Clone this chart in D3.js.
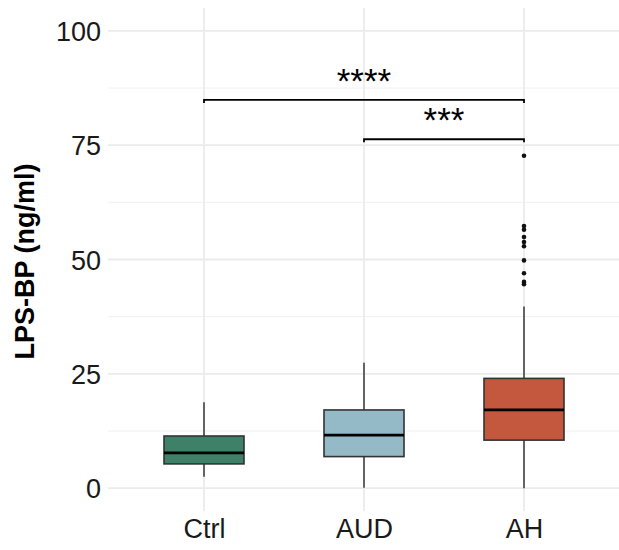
<!DOCTYPE html>
<html><head><meta charset="utf-8">
<script src="https://cdn.jsdelivr.net/npm/d3@7"></script>
<style>body{margin:0;background:#fff}svg{display:block}</style>
</head><body>
<svg id="c" width="619" height="550"></svg>
<script>
const categories = ["Ctrl", "AUD", "AH"];
const colors = ["#3f8069", "#94bac7", "#c4583f"];
// [lowerWhisker, q1, median, q3, upperWhisker]
const ctrlStats = [2.5, 5.3, 7.7, 11.4, 18.8];
const audStats = [0.1, 6.9, 11.6, 17.1, 27.4];
const ahStats = [0.0, 10.5, 17.1, 24.0, 39.7];
const ctrlOutliers = [];
const audOutliers = [];
const ahOutliers = [72.7, 57.3, 56.5, 54.9, 53.8, 52.9, 49.8, 47.0, 45.1, 44.6];
const yTicks = [0, 25, 50, 75, 100];
const yMinor = [12.5, 37.5, 62.5, 87.5];
const comparisons = [
  {from: "Ctrl", to: "AH", y: 84.9, label: "****"},
  {from: "AUD", to: "AH", y: 76.3, label: "***"}
];

(function () {
const stats = [ctrlStats, audStats, ahStats];
const outliers = [ctrlOutliers, audOutliers, ahOutliers];

const svg = d3.select("#c");
const pL = 108, pR = 620, pT = 8, pB = 511;
const y = d3.scaleLinear().domain([-5, 105]).range([pB, pT]);
const x = d3.scalePoint().domain(categories).range([pL, pR]).padding(0.6);
const boxW = x.step() * 0.5;
const font = "'Liberation Sans', Arial, sans-serif";

const grid = svg.append("g");
grid.selectAll(".mn").data(yMinor).join("line")
  .attr("x1", pL).attr("x2", pR).attr("y1", d => y(d)).attr("y2", d => y(d))
  .attr("stroke", "#f0f0f0").attr("stroke-width", 1);
grid.selectAll(".mj").data(yTicks).join("line")
  .attr("x1", pL).attr("x2", pR).attr("y1", d => y(d)).attr("y2", d => y(d))
  .attr("stroke", "#ebebeb").attr("stroke-width", 1.8);
grid.selectAll(".vx").data(categories).join("line")
  .attr("x1", d => x(d)).attr("x2", d => x(d)).attr("y1", pT).attr("y2", pB)
  .attr("stroke", "#ebebeb").attr("stroke-width", 1.8);

const yAxis = d3.axisLeft(y).tickValues(yTicks).tickSize(0).tickPadding(7);
const ga = svg.append("g").attr("transform", `translate(${pL},0)`).call(yAxis);
ga.select(".domain").remove();
ga.selectAll("text").attr("font-family", font).attr("font-size", 27).attr("fill", "#1a1a1a").attr("dy", "0.36em");

const xAxis = d3.axisBottom(x).tickSize(0).tickPadding(7);
const gx = svg.append("g").attr("transform", `translate(0,${pB})`).call(xAxis);
gx.select(".domain").remove();
gx.selectAll("text").attr("font-family", font).attr("font-size", 27).attr("fill", "#1a1a1a").attr("dy", "0.75em");

svg.append("text").attr("transform", `translate(34,${(y(0)+y(100))/2 + 2}) rotate(-90)`)
  .attr("text-anchor", "middle").attr("font-family", font).attr("font-weight", "bold")
  .attr("font-size", 27).attr("fill", "#000").text("LPS-BP (ng/ml)");

categories.forEach((c, i) => {
  const s = stats[i], cx = x(c);
  const g = svg.append("g");
  g.append("line").attr("x1", cx).attr("x2", cx).attr("y1", y(s[4])).attr("y2", y(s[3]))
    .attr("stroke", "#404040").attr("stroke-width", 1.6);
  g.append("line").attr("x1", cx).attr("x2", cx).attr("y1", y(s[1])).attr("y2", y(s[0]))
    .attr("stroke", "#404040").attr("stroke-width", 1.6);
  g.append("rect").attr("x", cx - boxW/2).attr("width", boxW)
    .attr("y", y(s[3])).attr("height", y(s[1]) - y(s[3]))
    .attr("fill", colors[i]).attr("stroke", "#333").attr("stroke-width", 1.6);
  g.append("line").attr("x1", cx - boxW/2).attr("x2", cx + boxW/2).attr("y1", y(s[2])).attr("y2", y(s[2]))
    .attr("stroke", "#000").attr("stroke-width", 2.8);
  g.selectAll("circle").data(outliers[i]).join("circle")
    .attr("cx", cx).attr("cy", d => y(d)).attr("r", 2.3).attr("fill", "#111");
});

comparisons.forEach(cmp => {
  const x1 = x(cmp.from), x2 = x(cmp.to), yy = y(cmp.y);
  svg.append("path").attr("d", `M${x1},${yy+3}V${yy}H${x2}V${yy+3}`)
    .attr("fill", "none").attr("stroke", "#000").attr("stroke-width", 1.8);
  svg.append("text").attr("x", (x1+x2)/2).attr("y", yy - 7)
    .attr("text-anchor", "middle").attr("font-family", font).attr("font-size", 35)
    .attr("fill", "#000").text(cmp.label);
});
})();
</script>
</body></html>
